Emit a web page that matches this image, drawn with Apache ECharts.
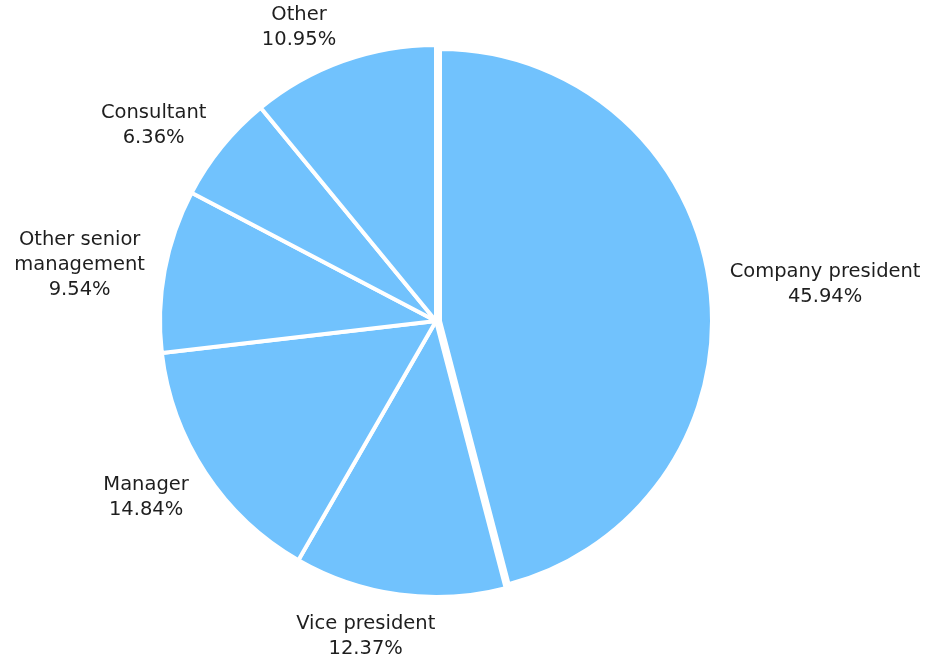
<!DOCTYPE html>
<html>
<head>
<meta charset="utf-8">
<title>Respondents by job title</title>
<script src="https://cdn.jsdelivr.net/npm/echarts@6/dist/echarts.min.js"></script>
<style>
  html, body { margin: 0; padding: 0; background: #ffffff; }
  #chart { width: 935px; height: 660px; }
</style>
</head>
<body>
<div id="chart"></div>
<script>
// Job titles, clockwise from 12 o'clock, and their share of respondents (%)
const categories = [
  'Company president',
  'Vice president',
  'Manager',
  'Other senior\nmanagement',
  'Consultant',
  'Other'
];
const shares = [45.94, 12.37, 14.84, 9.54, 6.36, 10.95];
const pulledCategory = 'Company president';

// Geometry of the pie
const CX = 436, CY = 321;      // centre of the pie
const R = 274;                 // visible radius of ordinary slices
const R_PULLED = 270;          // visible radius of the pulled slice
const PULL_X = 4;              // horizontal shift of the pulled slice
const BORDER = 4;              // white gap between slices
const LABEL_GAP = 22;          // distance from the rim to the label anchor
const SLICE_COLOR = '#71c2fd';
const TEXT_COLOR = '#1e1e1e';

const total = shares.reduce((a, b) => a + b, 0);

// Mid angle of slice i in radians, measured clockwise from 12 o'clock
function midAngle(i) {
  let before = 0;
  for (let k = 0; k < i; k++) before += shares[k];
  return (before + shares[i] / 2) / total * Math.PI * 2;
}

const chart = echarts.init(document.getElementById('chart'), null, { renderer: 'canvas' });

const mainData = categories.map((name, i) => {
  const item = { name: name, value: shares[i] };
  if (name === pulledCategory) {
    item.itemStyle = { color: 'rgba(0,0,0,0)', borderWidth: 0 };
  }
  return item;
});

const pulledData = categories.map((name, i) => {
  const item = { name: name, value: shares[i] };
  if (name !== pulledCategory) {
    item.itemStyle = { color: 'rgba(0,0,0,0)', borderWidth: 0 };
  }
  return item;
});

chart.setOption({
  backgroundColor: '#ffffff',
  animation: false,
  series: [
    {
      type: 'pie',
      center: [CX, CY],
      radius: [0, R + BORDER / 2],
      startAngle: 90,
      clockwise: true,
      avoidLabelOverlap: false,
      silent: true,
      itemStyle: { color: SLICE_COLOR, borderColor: '#ffffff', borderWidth: BORDER },
      label: {
        show: true,
        position: 'outside',
        color: TEXT_COLOR,
        fontFamily: 'DejaVu Sans',
        fontSize: 19.5,
        lineHeight: 25,
        align: 'center',
        formatter: (p) => p.name + '\n' + p.value.toFixed(2) + '%'
      },
      labelLine: { show: false, length: LABEL_GAP, length2: 0 },
      labelLayout: function (p) {
        const i = p.dataIndex;
        const a = midAngle(i);
        const ux = Math.sin(a), uy = -Math.cos(a);
        const pulled = categories[i] === pulledCategory;
        const cx = pulled ? CX + PULL_X : CX;
        const r = pulled ? R_PULLED : R;
        const ax = cx + ux * (r + LABEL_GAP);
        const ay = CY + uy * (r + LABEL_GAP);
        const w = p.labelRect.width, h = p.labelRect.height;
        const fx = Math.min(1, Math.abs(ux) / 0.3);
        const fy = 0.75 * uy;
        return {
          x: ax + Math.sign(ux) * fx * w / 2,
          y: ay + fy * h / 2 + 3,
          align: 'center',
          verticalAlign: 'middle'
        };
      },
      data: mainData
    },
    {
      type: 'pie',
      center: [CX + PULL_X, CY],
      radius: [0, R_PULLED + BORDER / 2],
      startAngle: 90,
      clockwise: true,
      silent: true,
      itemStyle: { color: SLICE_COLOR, borderColor: '#ffffff', borderWidth: BORDER },
      label: { show: false },
      labelLine: { show: false },
      data: pulledData
    }
  ]
});
</script>
</body>
</html>
